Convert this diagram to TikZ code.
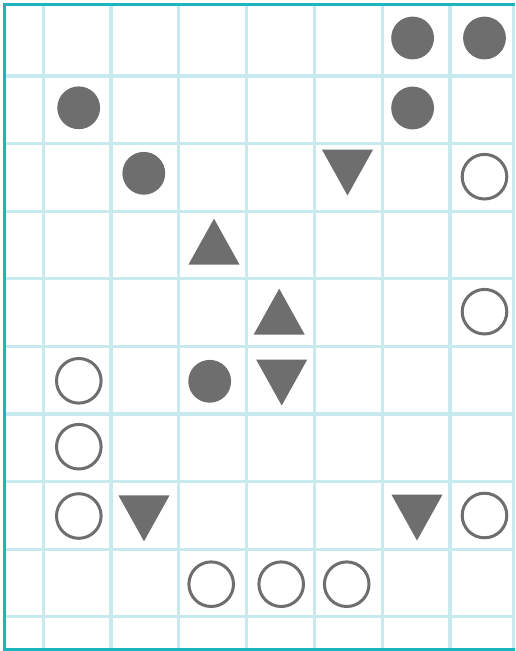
\documentclass[tikz,border=0pt]{standalone}
\definecolor{gridcol}{HTML}{C6EAEE}
\definecolor{bordercol}{HTML}{1BB5BE}
\definecolor{shapecol}{HTML}{6E6E6E}
\tikzset{
  gridline/.style={draw=gridcol, line width=3.2pt},
  borderline/.style={draw=bordercol, line width=3.4pt},
  fc/.pic={\fill[shapecol] (0,0) circle (21.4);},
  oc/.pic={\draw[shapecol, line width=3pt] (0,0) circle (22.3);},
  tu/.pic={\fill[shapecol] (-25.6,23) -- (25.6,23) -- (0,-23) -- cycle;},
  td/.pic={\fill[shapecol] (-25.6,-23) -- (25.6,-23) -- (0,23) -- cycle;},
}
\begin{document}
\begin{tikzpicture}[x=1pt,y=-1pt]
\useasboundingbox (0,0) rectangle (515,651);
\fill[white] (0,0) rectangle (515,651);
% grid
\foreach \y in {76,143.6,211.2,278.8,346.4,414,481.6,549.2,616.8}
  \draw[gridline] (4.5,\y) -- (515,\y);
\foreach \x in {43.2,111,178.8,246.6,314.4,382.4,450,513.4}
  \draw[gridline] (\x,4.5) -- (\x,649.5);
% border
\draw[borderline] (515,4.4) -- (4.6,4.4) -- (4.6,649.4) -- (515,649.4);
% filled circles
\pic at (412.6,38) {fc};
\pic at (484.5,38) {fc};
\pic at (78.7,107.8) {fc};
\pic at (412.6,108) {fc};
\pic at (143.8,173.3) {fc};
\pic at (209.7,381.3) {fc};
% open circles
\pic at (484.5,176.7) {oc};
\pic at (484.5,311.7) {oc};
\pic at (78.8,380.8) {oc};
\pic at (78.8,446.7) {oc};
\pic at (78.8,516) {oc};
\pic at (484.5,515.5) {oc};
\pic at (211.2,584.2) {oc};
\pic at (281.2,584.2) {oc};
\pic at (346.7,584.2) {oc};
% triangles
\pic at (347.5,172.5) {td};
\pic at (281.7,382.5) {td};
\pic at (144,518.3) {td};
\pic at (417,517.5) {td};
\pic at (214,241.7) {tu};
\pic at (279.2,311.7) {tu};
\end{tikzpicture}
\end{document}
